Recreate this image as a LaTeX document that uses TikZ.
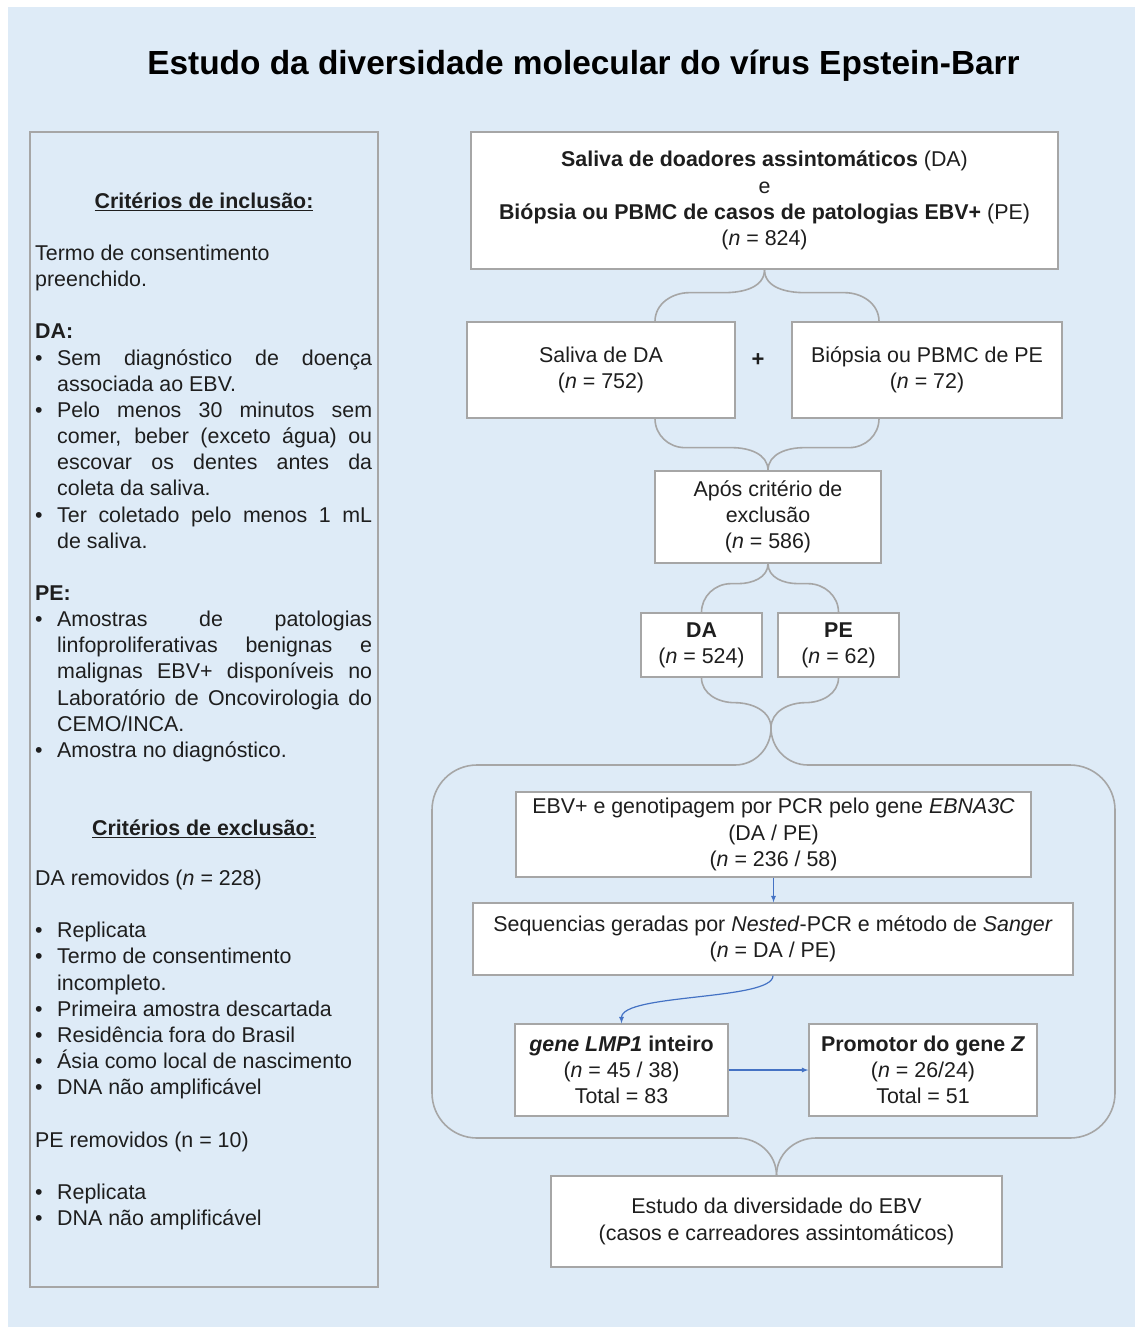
\documentclass[tikz,border=0pt]{standalone}
\usepackage{fontspec}
\setmainfont{Liberation Sans}
\usetikzlibrary{calc}
\definecolor{bgblue}{HTML}{DEEBF7}
\definecolor{linegray}{HTML}{A6A6A6}
\definecolor{arrowblue}{HTML}{4472C4}
\definecolor{txt}{HTML}{1E1E1E}
\newcommand{\bodyfont}{\fontsize{21.4}{26.15}\selectfont}
\newcommand{\justline}[1]{\makebox[315pt][s]{#1}}
\newcommand{\bul}{\makebox[22pt][l]{\textbullet}}
\newcommand{\ind}{\hspace*{22pt}}

\begin{document}
\begin{tikzpicture}[x=1pt,y=-1pt,
    box/.style={
      draw=linegray,
      line width=1.3pt,
      fill=white,
      align=center,
      inner sep=0pt,
      text=txt,
      font=\bodyfont
    }]
\tikzset{panel/.style = {anchor=base west, inner sep=0pt, text=txt, font=\bodyfont}}
\tikzset{brace/.style = {draw=linegray, line width=1.6pt}}
\tikzset{edge/.style = {draw=arrowblue, line width=1.2pt, -latex}}
\useasboundingbox (0,0) rectangle (1135,1327);
\fill[bgblue] (8,7) rectangle (1135,1327);
\node[font=\bfseries\fontsize{33.4}{40}\selectfont, anchor=base] (title) at (583.5,75) {Estudo da diversidade molecular do vírus Epstein-Barr};
% left panel
\draw[linegray, line width=1.3pt] (30,132) rectangle (378,1287);
\node[panel, anchor=base] (inc) at (204,208.5) {\textbf{\underline{Critérios de inclusão:}}};
\node[panel] (inclist) at (35,260.5) {\begin{tabular}[t]{@{}l@{}}
Termo de consentimento\\
preenchido.\\
\\
\textbf{DA:}\\
\bul\justline{Sem diagnóstico de doença}\\
\ind associada ao EBV.\\
\bul\justline{Pelo menos 30 minutos sem}\\
\ind\justline{comer, beber (exceto água) ou}\\
\ind\justline{escovar os dentes antes da}\\
\ind coleta da saliva.\\
\bul\justline{Ter coletado pelo menos 1 mL}\\
\ind de saliva.\\
\\
\textbf{PE:}\\
\bul\justline{Amostras de patologias}\\
\ind\justline{linfoproliferativas benignas e}\\
\ind\justline{malignas EBV+ disponíveis no}\\
\ind\justline{Laboratório de Oncovirologia do}\\
\ind CEMO/INCA.\\
\bul Amostra no diagnóstico.
\end{tabular}};
\node[panel, anchor=base] (exc) at (204,835.5) {\textbf{\underline{Critérios de exclusão:}}};
\node[panel] (exclist) at (35,885.5) {\begin{tabular}[t]{@{}l@{}}
DA removidos (\textit{n} = 228)\\
\\
\bul Replicata\\
\bul Termo de consentimento\\
\ind incompleto.\\
\bul Primeira amostra descartada\\
\bul Residência fora do Brasil\\
\bul Ásia como local de nascimento\\
\bul DNA não amplificável\\
\\
PE removidos (n = 10)\\
\\
\bul Replicata\\
\bul DNA não amplificável
\end{tabular}};
% flow boxes
\node[box, minimum width=587pt, minimum height=137pt] (top) at (764.5,200.5) {\textbf{Saliva de doadores assintomáticos} (DA)\\e\\\textbf{Biópsia ou PBMC de casos de patologias EBV+} (PE)\\(\textit{n} = 824)};
\node[box, minimum width=268pt, minimum height=96pt] (sda) at (601,370) {Saliva de DA\\(\textit{n} = 752)};
\node[box, minimum width=270pt, minimum height=96pt] (bpe) at (927,370) {Biópsia ou PBMC de PE\\(\textit{n} = 72)};
\node[panel, anchor=center, font=\bfseries\fontsize{22}{22}\selectfont] (plus) at (758,360) {+};
\node[box, minimum width=226pt, minimum height=92pt] (apos) at (768,517) {Após critério de\\exclusão\\(\textit{n} = 586)};
\node[box, minimum width=121pt, minimum height=64pt] (da) at (701.5,645) {\textbf{DA}\\(\textit{n} = 524)};
\node[box, minimum width=121pt, minimum height=64pt] (pe) at (838.5,645) {\textbf{PE}\\(\textit{n} = 62)};
\node[box, minimum width=515pt, minimum height=85pt] (ebna) at (773.5,834.5) {EBV+ e genotipagem por PCR pelo gene \textit{EBNA3C}\\(DA / PE)\\(\textit{n} = 236 / 58)};
\node[box, minimum width=600pt, minimum height=72pt] (seq) at (773,939) {Sequencias geradas por \textit{Nested}-PCR e método de \textit{Sanger}\\(\textit{n} = DA / PE)};
\node[box, minimum width=213pt, minimum height=92pt] (lmp) at (621.5,1070) {\textbf{\textit{gene LMP1} inteiro}\\(\textit{n} = 45 / 38)\\Total = 83};
\node[box, minimum width=228pt, minimum height=92pt] (prom) at (923,1070) {\textbf{Promotor do gene \textit{Z}}\\(\textit{n} = 26/24)\\Total = 51};
\node[box, minimum width=451pt, minimum height=91pt] (fim) at (776.5,1221.5) {Estudo da diversidade do EBV\\(casos e carreadores assintomáticos)};
% braces
\draw[brace] (top.south) to[out=-90,in=0] ++(-40,23) -- ++(-35,0) to[out=180,in=90] ([xshift=54pt]sda.north);
\draw[brace] (top.south) to[out=-90,in=180] ++(40,23) -- ++(40,0) to[out=0,in=90] ([xshift=-48pt]bpe.north);
\draw[brace] ([xshift=54pt]sda.south) to[out=-90,in=180] ++(30,29) -- ++(47,0) to[out=0,in=90] (apos.north);
\draw[brace] ([xshift=-48pt]bpe.south) to[out=-90,in=0] ++(-30,29) -- ++(-45,0) to[out=180,in=90] (apos.north);
\draw[brace] (apos.south) to[out=-90,in=0] ++(-30,20) -- ++(-7,0) to[out=180,in=90] (da.north);
\draw[brace] (apos.south) to[out=-90,in=180] ++(30,20) -- ++(10,0) to[out=0,in=90] (pe.north);
\draw[brace] (da.south) to[out=-90,in=180] ++(33,25) to[out=0,in=90] (771,728)
  to[out=-90,in=0] (735,765) -- (477,765) to[out=180,in=90] (432,810) -- (432,1093)
  to[out=-90,in=180] (477,1138) -- (737,1138) to[out=0,in=90] (fim.north);
\draw[brace] (pe.south) to[out=-90,in=0] ++(-33,25) to[out=180,in=90] (771,728)
  to[out=-90,in=180] (808,765) -- (1070,765) to[out=0,in=90] (1115,810) -- (1115,1093)
  to[out=-90,in=0] (1070,1138) -- (816,1138) to[out=180,in=90] (fim.north);
% arrows
\draw[edge] (ebna.south) -- (ebna.south |- seq.north);
\draw[edge] (seq.south) .. controls +(0,25) and +(0,-30) .. (lmp.north);
\draw[edge] (lmp.east) -- (prom.west);
\end{tikzpicture}
\end{document}
